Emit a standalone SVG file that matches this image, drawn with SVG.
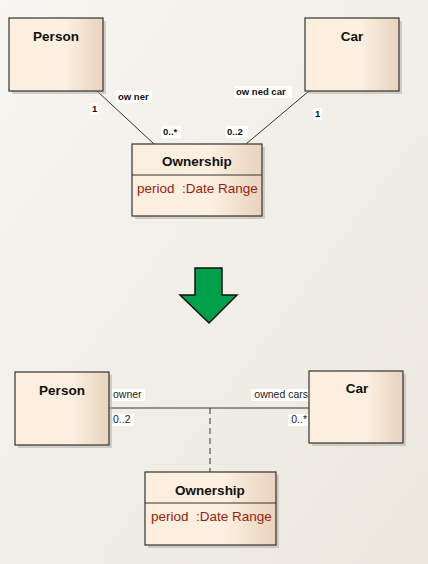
<svg xmlns="http://www.w3.org/2000/svg" width="428" height="564" viewBox="0 0 428 564">
<defs>
<linearGradient id="bg" x1="0" y1="0" x2="1" y2="1">
<stop offset="0" stop-color="#f7f6f2"/>
<stop offset="1" stop-color="#ebe7dd"/>
</linearGradient>
<linearGradient id="box" x1="0" y1="0" x2="1" y2="0">
<stop offset="0" stop-color="#fbeedd"/>
<stop offset="0.6" stop-color="#fcf0e2"/>
<stop offset="1" stop-color="#e8d3bd"/>
</linearGradient>
<style>
.node{fill:url(#box);stroke:#333;stroke-width:1.2}
.sh{fill:#b9b5ad;opacity:0.6}
.t{font-family:"Liberation Sans",Arial,sans-serif;font-weight:bold;font-size:13.5px;fill:#111;text-anchor:middle}
.a{font-family:"Liberation Sans",Arial,sans-serif;font-size:13.5px;fill:#9b1c10}
.lb{font-family:"Liberation Sans",Arial,sans-serif;font-weight:bold;font-size:9.5px;fill:#111}
.ln{font-family:"Liberation Sans",Arial,sans-serif;font-size:10.5px;fill:#222}
.bgw{fill:#fff}
.c{stroke:#333;stroke-width:1;fill:none}
</style>
</defs>
<rect width="428" height="564" fill="url(#bg)"/>

<g id="connectors">
<line class="c" x1="97" y1="91" x2="154" y2="144"/>
<line class="c" x1="309" y1="91" x2="246" y2="144"/>
<line class="c" x1="109" y1="408" x2="309" y2="408"/>
<line class="c" x1="210" y1="408" x2="210" y2="472" stroke-dasharray="6,4"/>
<rect class="bgw" x="116" y="91" width="36" height="12"/>
<text class="lb" x="118" y="100">ow ner</text>
<rect class="bgw" x="90" y="103" width="9" height="12"/>
<text class="lb" x="92" y="112">1</text>
<rect class="bgw" x="161" y="126" width="20" height="12"/>
<text class="lb" x="163" y="135">0..*</text>
<rect class="bgw" x="225" y="126" width="23" height="12"/>
<text class="lb" x="227" y="135">0..2</text>
<rect class="bgw" x="234" y="86" width="58" height="12"/>
<text class="lb" x="236" y="95">ow ned car</text>
<rect class="bgw" x="313" y="108" width="9" height="12"/>
<text class="lb" x="315" y="117">1</text>
<rect class="bgw" x="112" y="389" width="33" height="12"/>
<text class="ln" x="113" y="398">owner</text>
<rect class="bgw" x="251" y="389" width="58" height="12"/>
<text class="ln" x="308" y="398" text-anchor="end">owned cars</text>
<rect class="bgw" x="112" y="414" width="22" height="12"/>
<text class="ln" x="113" y="423">0..2</text>
<rect class="bgw" x="288" y="414" width="20" height="12"/>
<text class="ln" x="307" y="423" text-anchor="end">0..*</text>
</g>

<g id="person1">
<rect class="sh" x="12" y="21" width="94" height="73"/>
<rect class="node" x="9" y="18" width="94" height="73"/>
<text class="t" x="56" y="41">Person</text>
</g>
<g id="car1">
<rect class="sh" x="308" y="21" width="94" height="73"/>
<rect class="node" x="305" y="18" width="94" height="73"/>
<text class="t" x="352" y="41">Car</text>
</g>
<g id="ownership1">
<rect class="sh" x="135" y="147" width="130" height="72"/>
<rect class="node" x="132" y="144" width="130" height="72"/>
<line class="c" x1="132" y1="175" x2="262" y2="175"/>
<text class="t" x="197" y="166">Ownership</text>
<text class="a" x="137" y="193" xml:space="preserve">period  :Date Range</text>
</g>

<g id="arrow">
<polygon points="195,268 222,268 222,295 237,295 209,323 180,295 195,295" fill="#00a04a" stroke="#111" stroke-width="1.5"/>
</g>

<g id="person2">
<rect class="sh" x="18" y="375" width="94" height="73"/>
<rect class="node" x="15" y="372" width="94" height="73"/>
<text class="t" x="62" y="395">Person</text>
</g>
<g id="car2">
<rect class="sh" x="312" y="374" width="94" height="72"/>
<rect class="node" x="309" y="371" width="94" height="72"/>
<text class="t" x="357" y="393">Car</text>
</g>
<g id="ownership2">
<rect class="sh" x="148" y="475" width="131" height="73"/>
<rect class="node" x="145" y="472" width="131" height="73"/>
<line class="c" x1="145" y1="503" x2="276" y2="503"/>
<text class="t" x="210" y="495">Ownership</text>
<text class="a" x="151" y="521" xml:space="preserve">period  :Date Range</text>
</g>
</svg>
